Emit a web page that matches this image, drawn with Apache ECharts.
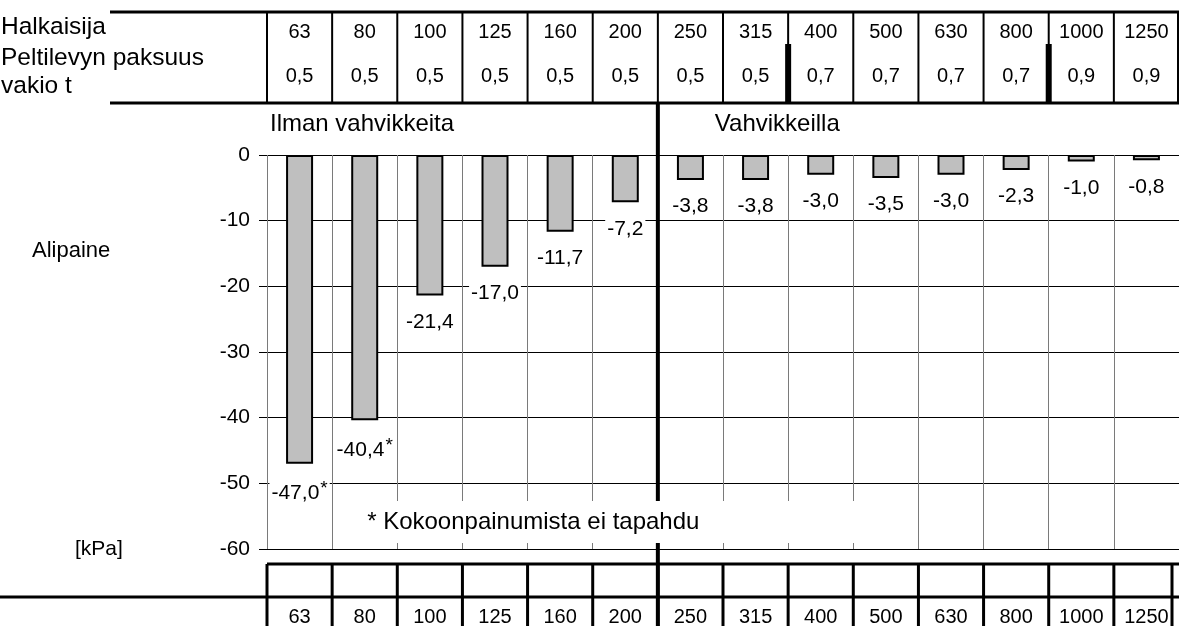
<!DOCTYPE html>
<html><head><meta charset="utf-8">
<script src="https://cdn.jsdelivr.net/npm/echarts@6/dist/echarts.min.js"></script>
<style>html,body{margin:0;padding:0;background:#fff}#c{width:1179px;height:626px}</style>
</head><body><div id="c"></div>
<script>
// ---- data ----
const diameters = ['63','80','100','125','160','200','250','315','400','500','630','800','1000','1250'];
const thickness = ['0,5','0,5','0,5','0,5','0,5','0,5','0,5','0,5','0,7','0,7','0,7','0,7','0,9','0,9'];
const pressure = [-47.0,-40.4,-21.4,-17.0,-11.7,-7.2,-3.8,-3.8,-3.0,-3.5,-3.0,-2.3,-1.0,-0.8];
const noCollapse = [true,true,false,false,false,false,false,false,false,false,false,false,false,false];
const yRange = [-60, 0];
const yStep = 10;
const rowLabels = ['Halkaisija','Peltilevyn paksuus','vakio t'];
const sectionTitles = ['Ilman vahvikkeita','Vahvikkeilla'];
const reinforcedFrom = 6; // first reinforced column index (250)
const footnote = '* Kokoonpainumista ei tapahdu';
const yName = 'Alipaine';
const yUnit = '[kPa]';

const FONT = '"Liberation Sans", Arial, Helvetica, sans-serif';
const fmt = v => v.toFixed(1).replace('.', ',');
const chart = echarts.init(document.getElementById('c'));

chart.setOption({
  animation: false,
  textStyle: {fontFamily: FONT},
  grid: {left: 267, right: 0, top: 155, bottom: 77},
  xAxis: {
    type: 'category', data: diameters, boundaryGap: true,
    axisLine: {show: false}, axisTick: {show: false}, axisLabel: {show: false},
    splitLine: {show: true, lineStyle: {color: '#7a7a7a', width: 1}}
  },
  yAxis: {
    type: 'value', min: yRange[0], max: yRange[1], interval: yStep,
    axisLine: {show: false},
    axisTick: {show: true, length: 8, lineStyle: {color: '#000'}},
    axisLabel: {fontSize: 21, color: '#000', margin: 17, fontFamily: FONT},
    splitLine: {show: true, lineStyle: {color: '#000', width: 1}}
  },
  series: [{
    type: 'bar', data: pressure, barWidth: 27,
    itemStyle: {color: '#bfbfbf', borderColor: '#000', borderWidth: 2},
    label: {
      show: true, position: 'bottom', distance: 15,
      backgroundColor: '#fff', padding: [1, 2],
      formatter: p => noCollapse[p.dataIndex] ? '{v|' + fmt(p.value) + '}{s|*}' : '{v|' + fmt(p.value) + '}',
      rich: {
        v: {fontSize: 21, color: '#000', fontFamily: FONT},
        s: {fontSize: 19, color: '#000', fontFamily: FONT, padding: [0, 0, 8, 1]}
      }
    }
  }]
});

// ---- table / annotation graphics derived from axis scale ----
const c0 = chart.convertToPixel({xAxisIndex: 0}, 0);
const c1 = chart.convertToPixel({xAxisIndex: 0}, 1);
const bw = c1 - c0;
const bnd = k => c0 - bw / 2 + k * bw;
const cen = i => c0 + i * bw;
const W = 1179, H = 626;
const g = [];
const line = (x1, y1, x2, y2, w, z) => g.push({type: 'line', z: z || 10, shape: {x1, y1, x2, y2}, style: {stroke: '#000', lineWidth: w}});
const txt = (x, y, t, size, align, z) => g.push({type: 'text', z: z || 12, x, y, style: {text: t, fontSize: size, fontFamily: FONT, fill: '#000', align: align || 'center', verticalAlign: 'middle'}});

// top table
line(110, 12, W, 12, 3);
line(110, 103, W, 103, 3);
for (let k = 0; k < diameters.length; k++) line(bnd(k), 12, bnd(k), 103, 2);
line(W - 1, 12, W - 1, 103, 2);
for (let i = 1; i < thickness.length; i++) if (thickness[i] !== thickness[i - 1]) line(bnd(i), 44, bnd(i), 103, 6);
diameters.forEach((d, i) => { txt(cen(i), 32, d, 20); txt(cen(i), 76, thickness[i], 20); });
txt(1, 27, rowLabels[0], 24.5, 'left');
txt(1, 58, rowLabels[1], 24.5, 'left');
txt(1, 86, rowLabels[2], 24.5, 'left');

// section titles
txt(bnd(0) + 3, 124, sectionTitles[0], 24, 'left');
txt(bnd(reinforcedFrom) + 57, 124, sectionTitles[1], 24, 'left');

// thick separator
line(bnd(reinforcedFrom), 103, bnd(reinforcedFrom), H, 4);

// footnote box
g.push({type: 'rect', z: 11, shape: {x: bnd(1) + 4, y: 501, width: bnd(9) - bnd(1) - 3, height: 42}, style: {fill: '#fff'}});
txt(bnd(1) + 35, 522, footnote, 24, 'left');

// y name + unit
txt(32, 251, yName, 22, 'left');
txt(75, 549, yUnit, 21, 'left');

// bottom table
line(bnd(0), 564, W, 564, 3);
line(0, 597, W, 597, 3);
for (let k = 0; k < diameters.length; k++) line(bnd(k), 564, bnd(k), H, 3);
line(W - 7, 564, W - 7, H, 3);
diameters.forEach((d, i) => txt(cen(i), 617, d, 20));

chart.setOption({graphic: {elements: g}});
</script>
</body></html>
